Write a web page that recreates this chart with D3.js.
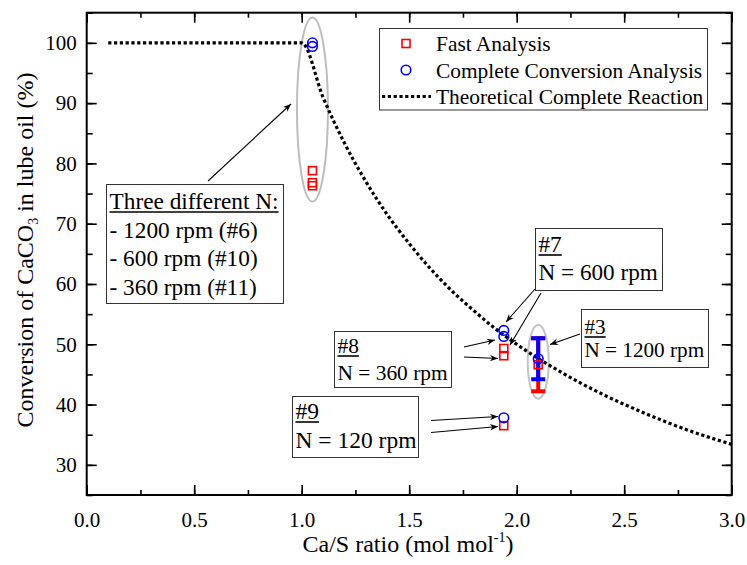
<!DOCTYPE html>
<html>
<head>
<meta charset="utf-8">
<script src="https://cdn.jsdelivr.net/npm/d3@7"></script>
<style>
  body { margin: 0; background: #fff; }
  text { font-family: "Liberation Serif", "Times New Roman", serif; fill: #000; }
</style>
</head>
<body>
<svg id="chart"></svg>
<script>
// Fast Analysis (red squares)
var fastX = [1.05, 1.05, 1.05, 1.94, 1.94, 1.94, 2.10];
var fastY = [78.8, 76.8, 76.3, 49.3, 48.1, 36.5, 46.6];
var fastErr = [0, 0, 0, 0, 0, 0, 4.4];

// Complete Conversion Analysis (blue circles)
var fullX = [1.05, 1.05, 1.94, 1.94, 1.94, 2.10];
var fullY = [100, 99.4, 52.3, 51.3, 37.8, 47.6];
var fullErr = [0, 0, 0, 0, 0, 3.4];

// Theoretical Complete Reaction
var theoX = [0.1, 1.0, 1.1, 1.2, 1.3, 1.4, 1.5, 1.6, 1.7, 1.8, 1.9, 2.0, 2.2, 2.4, 2.6, 2.8, 3.0];
var theoY = [100, 100, 90.9, 83.3, 76.9, 71.4, 66.7, 62.5, 58.8, 55.6, 52.6, 50.0, 45.5, 41.7, 38.5, 35.7, 33.4];

var xTicks = [0, 0.5, 1.0, 1.5, 2.0, 2.5, 3.0];
var yTicks = [30, 40, 50, 60, 70, 80, 90, 100];

var W = 747, H = 565;
var pLeft = 86.7, pRight = 731.7, pTop = 12.7, pBottom = 495;

var svg = d3.select('#chart').attr('width', W).attr('height', H);

var x = d3.scaleLinear().domain([0, 3]).range([pLeft, pRight]);
var y = d3.scaleLinear().domain([25, 105]).range([pBottom, pTop]);

var defs = svg.append('defs');
defs.append('marker')
  .attr('id', 'arrow')
  .attr('viewBox', '0 0 10 10')
  .attr('refX', 10).attr('refY', 5)
  .attr('markerWidth', 11).attr('markerHeight', 8)
  .attr('markerUnits', 'userSpaceOnUse')
  .attr('orient', 'auto')
  .append('path').attr('d', 'M0,1 L10,5 L0,9 L3,5 Z').attr('fill', '#000');

// axes, ticks inward
function styleAxis(g) {
  g.select('.domain').remove();
  g.selectAll('line').attr('stroke', '#000').attr('stroke-width', 1.6);
  g.selectAll('text').style('font-size', '21px').style('font-family', '"Liberation Serif", serif');
}

var minorX = d3.range(0, 3.01, 0.25);
var minorY = d3.range(25, 105.01, 5);

svg.append('g').attr('transform', 'translate(0,' + pBottom + ')')
  .call(d3.axisBottom(x).tickValues(minorX).tickSize(-5).tickFormat(''))
  .call(styleAxis);
svg.append('g').attr('transform', 'translate(0,' + pBottom + ')')
  .call(d3.axisBottom(x).tickValues(xTicks).tickSizeInner(-10).tickPadding(17).tickFormat(d3.format('.1f')))
  .call(styleAxis);
svg.append('g').attr('transform', 'translate(0,' + pTop + ')')
  .call(d3.axisTop(x).tickValues(minorX).tickSize(-5).tickFormat(''))
  .call(styleAxis);
svg.append('g').attr('transform', 'translate(0,' + pTop + ')')
  .call(d3.axisTop(x).tickValues(xTicks).tickSize(-10).tickFormat(''))
  .call(styleAxis);

svg.append('g').attr('transform', 'translate(' + pLeft + ',0)')
  .call(d3.axisLeft(y).tickValues(minorY).tickSize(-6).tickFormat(''))
  .call(styleAxis);
svg.append('g').attr('transform', 'translate(' + pLeft + ',0)')
  .call(d3.axisLeft(y).tickValues(yTicks).tickSizeInner(-10).tickPadding(10))
  .call(styleAxis);
svg.append('g').attr('transform', 'translate(' + pRight + ',0)')
  .call(d3.axisRight(y).tickValues(minorY).tickSize(-6).tickFormat(''))
  .call(styleAxis);
svg.append('g').attr('transform', 'translate(' + pRight + ',0)')
  .call(d3.axisRight(y).tickValues(yTicks).tickSize(-10).tickFormat(''))
  .call(styleAxis);

svg.append('rect')
  .attr('x', pLeft).attr('y', pTop)
  .attr('width', pRight - pLeft).attr('height', pBottom - pTop)
  .attr('fill', 'none').attr('stroke', '#000').attr('stroke-width', 2);

// axis titles
var xt = svg.append('text')
  .attr('x', 408).attr('y', 552)
  .attr('text-anchor', 'middle').style('font-size', '24px');
xt.append('tspan').text('Ca/S ratio (mol mol');
xt.append('tspan').text('-1').style('font-size', '14px').attr('dy', -10);
xt.append('tspan').text(')').attr('dy', 10);

var yt = svg.append('text')
  .attr('transform', 'translate(33,250) rotate(-90)')
  .attr('text-anchor', 'middle').style('font-size', '24px');
yt.append('tspan').text('Conversion of CaCO');
yt.append('tspan').text('3').style('font-size', '14px').attr('dy', 5);
yt.append('tspan').text(' in lube oil (%)').attr('dy', -5);

// gray ellipses
svg.append('ellipse').attr('cx', x(1.05)).attr('cy', 109.5).attr('rx', 15.5).attr('ry', 92)
  .attr('fill', 'none').attr('stroke', '#bdbdbd').attr('stroke-width', 2);
svg.append('ellipse').attr('cx', x(2.10)).attr('cy', 361.7).attr('rx', 10.5).attr('ry', 37)
  .attr('fill', 'none').attr('stroke', '#c4c4c4').attr('stroke-width', 2);

// theoretical curve
var theo = theoX.map(function(d, i) { return [d, theoY[i]]; });
svg.append('path')
  .datum(theo)
  .attr('d', d3.line().x(function(d) { return x(d[0]); }).y(function(d) { return y(d[1]); }).curve(d3.curveMonotoneX))
  .attr('fill', 'none').attr('stroke', '#000').attr('stroke-width', 3.2)
  .attr('stroke-dasharray', '3.2 2.6');

// error bars
function errBars(xs, ys, es, color, capW) {
  var rows = xs.map(function(d, i) { return {x: d, y: ys[i], e: es[i]}; }).filter(function(d) { return d.e > 0; });
  var g = svg.append('g').attr('stroke', color).attr('stroke-width', 4);
  rows.forEach(function(d) {
    g.append('line').attr('x1', x(d.x)).attr('x2', x(d.x)).attr('y1', y(d.y - d.e)).attr('y2', y(d.y + d.e));
    g.append('line').attr('x1', x(d.x) - capW).attr('x2', x(d.x) + capW).attr('y1', y(d.y - d.e)).attr('y2', y(d.y - d.e));
    g.append('line').attr('x1', x(d.x) - capW).attr('x2', x(d.x) + capW).attr('y1', y(d.y + d.e)).attr('y2', y(d.y + d.e));
  });
}
errBars(fastX, fastY, fastErr, '#ff0000', 7);
errBars(fullX, fullY, fullErr, '#0000ff', 7);

// markers
svg.append('g').selectAll('rect')
  .data(fastX.map(function(d, i) { return [d, fastY[i]]; }))
  .enter().append('rect')
  .attr('x', function(d) { return x(d[0]) - 4; })
  .attr('y', function(d) { return y(d[1]) - 4; })
  .attr('width', 8).attr('height', 8)
  .attr('fill', 'none').attr('stroke', '#ff0000').attr('stroke-width', 1.6);

svg.append('g').selectAll('circle')
  .data(fullX.map(function(d, i) { return [d, fullY[i]]; }))
  .enter().append('circle')
  .attr('cx', function(d) { return x(d[0]); })
  .attr('cy', function(d) { return y(d[1]); })
  .attr('r', 4.8)
  .attr('fill', 'none').attr('stroke', '#0000ff').attr('stroke-width', 1.6);

// legend
var lg = svg.append('g');
lg.append('rect').attr('x', 379.5).attr('y', 28.5).attr('width', 328).attr('height', 81.5)
  .attr('fill', '#fff').attr('stroke', '#333').attr('stroke-width', 1);
lg.append('rect').attr('x', 402).attr('y', 39.5).attr('width', 8).attr('height', 8)
  .attr('fill', 'none').attr('stroke', '#ff0000').attr('stroke-width', 1.6);
lg.append('circle').attr('cx', 406).attr('cy', 70).attr('r', 4.8)
  .attr('fill', 'none').attr('stroke', '#0000ff').attr('stroke-width', 1.6);
lg.append('line').attr('x1', 382).attr('x2', 431).attr('y1', 96.5).attr('y2', 96.5)
  .attr('stroke', '#000').attr('stroke-width', 3.2).attr('stroke-dasharray', '3.2 2.6');
var legendNames = ['Fast Analysis', 'Complete Conversion Analysis', 'Theoretical Complete Reaction'];
lg.selectAll('text.lab').data(legendNames).enter().append('text')
  .attr('x', 436).attr('y', function(d, i) { return 51 + i * 26.7; })
  .style('font-size', '21.4px').text(function(d) { return d; });

// annotation boxes
function note(bx, by, bw, bh, lines, first, lineGap, fs) {
  var g = svg.append('g');
  g.append('rect').attr('x', bx + 0.5).attr('y', by + 0.5).attr('width', bw).attr('height', bh)
    .attr('fill', '#fff').attr('stroke', '#333').attr('stroke-width', 1);
  lines.forEach(function(t, i) {
    var tx = g.append('text').attr('x', bx + 3.5).attr('y', by + first + i * lineGap)
      .style('font-size', fs + 'px').text(t);
    if (i === 0) {
      var w = tx.node().getComputedTextLength();
      g.append('line').attr('x1', bx + 3.5).attr('x2', bx + 3.5 + w)
        .attr('y1', by + first + 3).attr('y2', by + first + 3)
        .attr('stroke', '#000').attr('stroke-width', 1.6);
    }
  });
}
function arrow(x1, y1, x2, y2) {
  svg.append('line').attr('x1', x1).attr('y1', y1).attr('x2', x2).attr('y2', y2)
    .attr('stroke', '#000').attr('stroke-width', 1.1).attr('marker-end', 'url(#arrow)');
}

note(106, 184, 177, 119, ['Three different N:', '- 1200 rpm (#6)', '- 600 rpm (#10)', '- 360 rpm (#11)'], 25, 28.6, 23.3);
arrow(208, 181, 291, 104);

note(535, 228, 127, 62, ['#7', 'N = 600 rpm'], 24, 28, 23.2);
arrow(535, 289, 506, 322);
arrow(541, 293, 510, 345);

note(334, 331, 117, 56, ['#8', 'N = 360 rpm'], 22, 27, 21.4);
arrow(464, 347, 495, 340);
arrow(464, 357, 498, 358.5);

note(292, 396, 126, 61, ['#9', 'N = 120 rpm'], 23, 29, 23.5);
arrow(431, 420.5, 498, 416.5);
arrow(431, 432.5, 498, 426.5);

note(581, 309, 127, 58, ['#3', 'N = 1200 rpm'], 25, 23, 21.2);
arrow(580, 334, 550, 344.5);
</script>
</body>
</html>
